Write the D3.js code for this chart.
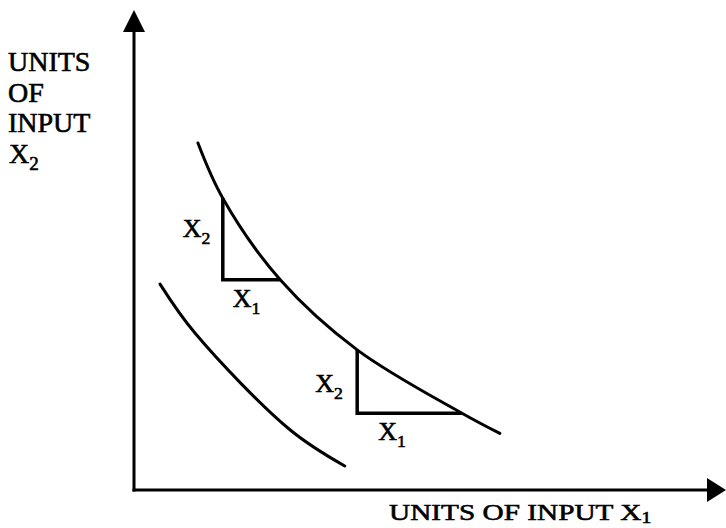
<!DOCTYPE html>
<html>
<head>
<meta charset="utf-8">
<script src="https://cdn.jsdelivr.net/npm/d3@7"></script>
<style>
    body { margin: 0; background: #fff; }
    .label { font-family: "Liberation Serif", "Times New Roman", serif; fill: #000; stroke: #000; stroke-width: 0.6; }
    .curve { fill: none; stroke: #000; stroke-width: 3; stroke-linecap: round; }
    .step  { fill: none; stroke: #000; stroke-width: 3.5; }
    .axis  { stroke: #000; stroke-width: 3; }
</style>
</head>
<body>
<div id="graph"></div>
<script>

// 
// Data (axis units 0..100 on both axes)
// 

// upper isoquant
var curveHighX = [10.8, 15.0, 24.7, 37.7, 55.4, 61.8];
var curveHighY = [72.3, 60.8, 43.8, 29.2, 16.0, 11.8];

// lower isoquant
var curveLowX  = [ 4.4, 10.3, 26.4, 35.6];
var curveLowY  = [42.9, 32.7, 12.5,  5.0];

// the two substitution triangles: top point and right point, both on the upper curve
var stepTopX   = [15.0, 37.7];
var stepTopY   = [60.8, 29.2];
var stepEndX   = [24.7, 55.4];
var stepEndY   = [43.8, 16.0];

var yTitleLines = ['UNITS', 'OF', 'INPUT'];
var xTitle      = 'UNITS OF INPUT X';


var width  = 726;
var height = 528;

var xScale = d3.scaleLinear ()
               .domain ([0, 100])
               .range ([134, 726]);

var yScale = d3.scaleLinear ()
               .domain ([0, 100])
               .range ([490, 10]);

var zip = function (xs, ys)
{
    return xs.map (function (x, i) { return {x: x, y: ys[i]}; });
};

var line = d3.line ()
             .x (function (d) { return xScale (d.x); })
             .y (function (d) { return yScale (d.y); })
             .curve (d3.curveCatmullRom.alpha (0.5));

var svg = d3.select ('div#graph')
            .append ('svg')
            .attr ('width', width)
            .attr ('height', height);

//
// Axes with arrow heads
//
svg.append ('line')
   .attr ('class', 'axis')
   .attr ('x1', xScale (0)).attr ('y1', yScale (0) + 1.5)
   .attr ('x2', xScale (0)).attr ('y2', yScale (100) + 20);

svg.append ('line')
   .attr ('class', 'axis')
   .attr ('x1', xScale (0) - 1.5).attr ('y1', yScale (0))
   .attr ('x2', xScale (100) - 18).attr ('y2', yScale (0));

svg.append ('path')
   .attr ('d', 'M' + xScale (0) + ',' + yScale (100) +
               'L' + (xScale (0) + 11) + ',' + (yScale (100) + 22) +
               'L' + (xScale (0) - 11) + ',' + (yScale (100) + 22) + 'Z')
   .attr ('fill', '#000');

svg.append ('path')
   .attr ('d', 'M' + xScale (100) + ',' + yScale (0) +
               'L' + (xScale (100) - 19) + ',' + (yScale (0) - 12) +
               'L' + (xScale (100) - 19) + ',' + (yScale (0) + 12) + 'Z')
   .attr ('fill', '#000');

//
// Isoquants
//
svg.append ('path')
   .datum (zip (curveHighX, curveHighY))
   .attr ('class', 'curve')
   .attr ('d', line);

svg.append ('path')
   .datum (zip (curveLowX, curveLowY))
   .attr ('class', 'curve')
   .attr ('d', line);

//
// Triangles
//
stepTopX.forEach (function (x, i)
{
    var x0 = xScale (x),            y0 = yScale (stepTopY[i]);
    var x1 = xScale (stepEndX[i]),  y1 = yScale (stepEndY[i]);

    svg.append ('path')
       .attr ('class', 'step')
       .attr ('d', 'M' + x0 + ',' + y0 + 'L' + x0 + ',' + y1 + 'L' + x1 + ',' + y1);
});

var subLabel = function (x, y, size, base, sub)
{
    var t = svg.append ('text')
               .attr ('class', 'label')
               .attr ('x', x)
               .attr ('y', y)
               .style ('font-size', size + 'px');
    t.append ('tspan').text (base);
    t.append ('tspan')
     .attr ('dy', size * 0.25)
     .style ('font-size', (size * 0.68) + 'px')
     .text (sub);
    return t;
};

// triangle labels
subLabel (xScale (stepTopX[0]) - 40, 237, 26, 'X', '2');
subLabel (xScale (stepTopX[0]) + 10, 307, 26, 'X', '1');
subLabel (xScale (stepTopX[1]) - 42, 392, 26, 'X', '2');
subLabel (xScale (stepTopX[1]) + 21, 440, 26, 'X', '1');

//
// Axis titles
//
yTitleLines.forEach (function (s, i)
{
    svg.append ('text')
       .attr ('class', 'label')
       .attr ('x', 8)
       .attr ('y', 71 + i * 30.5)
       .style ('font-size', '28px')
       .text (s);
});
subLabel (9, 163, 28, 'X', '2');

var xt = svg.append ('text')
            .attr ('class', 'label')
            .attr ('transform', 'translate(389,520) scale(1.22,1)')
            .style ('font-size', '24px');
xt.append ('tspan').text (xTitle);
xt.append ('tspan')
  .attr ('dy', 3)
  .style ('font-size', '16px')
  .text ('1');

</script>
</body>
</html>
